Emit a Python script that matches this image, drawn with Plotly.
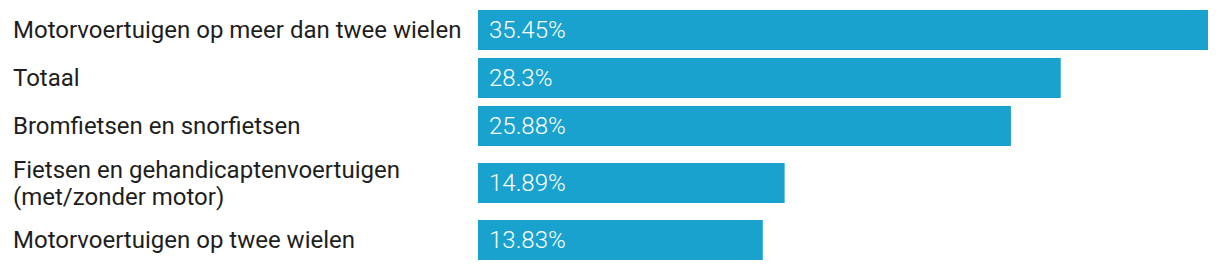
import plotly.graph_objects as go

categories = [
    "Motorvoertuigen op meer dan twee wielen",
    "Totaal",
    "Bromfietsen en snorfietsen",
    "Fietsen en gehandicaptenvoertuigen<br>(met/zonder motor)",
    "Motorvoertuigen op twee wielen",
]
values = [35.45, 28.3, 25.88, 14.89, 13.83]

BAR_COLOR = "#19a2cd"
FONT = "Roboto"
SIZE = 24
LINE_H = 27
ROW = 48
EXTRA_LINE = 18

# row centres derived from number of label lines
heights = [ROW + EXTRA_LINE * c.count("<br>") for c in categories]
centres = []
acc = 0
for h in heights:
    centres.append(acc + h / 2)
    acc += h
total = acc

fig = go.Figure(go.Bar(
    x=values, y=centres, orientation="h", width=40,
    marker=dict(color=BAR_COLOR, line=dict(width=0)),
    hoverinfo="skip",
))

for c, y in zip(categories, centres):
    lines = c.split("<br>")
    n = len(lines)
    for i, ln in enumerate(lines):
        fig.add_annotation(x=0, xref="paper", y=y, yref="y", text=ln, showarrow=False,
                           xanchor="left", yanchor="middle", align="left", xshift=-467,
                           yshift=-((i - (n - 1) / 2) * LINE_H),
                           font=dict(family=FONT, size=SIZE, color="#1e1e1e"))
for v, y in zip(values, centres):
    fig.add_annotation(x=0, xref="x", y=y, yref="y", text=f"{v}%", showarrow=False,
                       xanchor="left", yanchor="middle", xshift=9,
                       font=dict(family=FONT, size=SIZE, color="white", weight=300))

fig.update_layout(
    width=1220, height=270,
    margin=dict(l=478, r=12, t=6, b=6),
    paper_bgcolor="white", plot_bgcolor="white",
    showlegend=False,
    xaxis=dict(range=[0, max(values)], visible=False, fixedrange=True),
    yaxis=dict(range=[total, 0], visible=False, fixedrange=True),
)

fig.write_html("out.html", config={"displayModeBar": False})
